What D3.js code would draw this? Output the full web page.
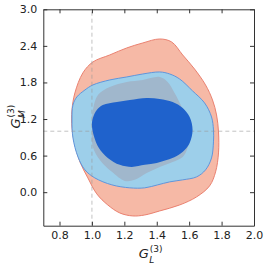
<!DOCTYPE html>
<html>
<head>
<meta charset="utf-8">
<script src="https://cdn.jsdelivr.net/npm/d3@7"></script>
<style>
  body { margin: 0; background: #fff; }
  text { font-family: "DejaVu Sans", sans-serif; fill: #222; }
</style>
</head>
<body>
<svg id="chart" width="266" height="268"></svg>
<script>
// contour outlines, in data units (G_L, G_M)
const outerRed = [
  [0.877, 1.349], [0.895, 1.628], [0.944, 1.956], [1.006, 2.136], [1.110, 2.251],
  [1.215, 2.366], [1.314, 2.448], [1.418, 2.513], [1.492, 2.464], [1.560, 2.251],
  [1.633, 2.021], [1.701, 1.759], [1.744, 1.513], [1.769, 1.267], [1.781, 0.988],
  [1.781, 0.644], [1.763, 0.333], [1.726, 0.103], [1.646, -0.077], [1.541, -0.210],
  [1.418, -0.308], [1.326, -0.374], [1.252, -0.390], [1.172, -0.341], [1.098, -0.210],
  [1.030, -0.028], [0.975, 0.234], [0.926, 0.497], [0.895, 0.775], [0.877, 1.054]
];
const outerBlue = [
  [0.907, 1.562], [0.957, 1.677], [1.006, 1.759], [1.110, 1.841], [1.215, 1.890],
  [1.314, 1.939], [1.418, 1.972], [1.480, 1.939], [1.541, 1.857], [1.621, 1.661],
  [1.695, 1.464], [1.738, 1.234], [1.750, 1.021], [1.750, 0.825], [1.738, 0.562],
  [1.701, 0.366], [1.646, 0.251], [1.560, 0.202], [1.480, 0.169], [1.406, 0.120],
  [1.326, 0.071], [1.234, 0.071], [1.123, 0.120], [1.018, 0.234], [0.957, 0.366],
  [0.914, 0.579], [0.883, 0.890], [0.877, 1.185], [0.883, 1.431]
];
const innerRed = [
  [1.006, 1.349], [1.037, 1.595], [1.110, 1.726], [1.215, 1.808], [1.314, 1.841],
  [1.418, 1.890], [1.467, 1.808], [1.510, 1.628], [1.554, 1.398], [1.584, 1.185],
  [1.603, 0.939], [1.590, 0.726], [1.560, 0.579], [1.498, 0.497], [1.418, 0.415],
  [1.338, 0.316], [1.264, 0.202], [1.203, 0.185], [1.123, 0.333], [1.049, 0.529],
  [1.006, 0.743], [1.000, 1.054]
];
const innerBlue = [
  [1.006, 1.218], [1.030, 1.349], [1.067, 1.431], [1.154, 1.480], [1.234, 1.513],
  [1.338, 1.546], [1.418, 1.530], [1.498, 1.480], [1.560, 1.382], [1.603, 1.234],
  [1.621, 1.021], [1.603, 0.808], [1.572, 0.693], [1.523, 0.595], [1.461, 0.529],
  [1.400, 0.480], [1.326, 0.448], [1.246, 0.415], [1.172, 0.448], [1.098, 0.562],
  [1.043, 0.726], [1.012, 0.923], [1.000, 1.103]
];

const xTicks = [0.8, 1.0, 1.2, 1.4, 1.6, 1.8, 2.0];
const yTicks = [0.0, 0.6, 1.2, 1.8, 2.4, 3.0];
const refX = 1.0, refY = 1.0;

const margin = {left: 43.3, top: 9.3, right: 12, bottom: 42.3};
const W = 266, H = 268;

const svg = d3.select("#chart");
const x = d3.scaleLinear().domain([0.7, 2.0]).range([margin.left, W - margin.right]);
const y = d3.scaleLinear().domain([-0.55, 3.0]).range([H - margin.bottom, margin.top]);

const line = d3.line()
  .x(d => x(d[0]))
  .y(d => y(d[1]))
  .curve(d3.curveCatmullRomClosed.alpha(0.5));

function drawRegion(pts, fill, stroke) {
  svg.append("path")
    .attr("d", line(pts))
    .attr("fill", fill)
    .attr("stroke", stroke)
    .attr("stroke-width", stroke === "none" ? 0 : 1);
}

drawRegion(outerRed, "#f6b9a6", "#ea8170");
drawRegion(outerBlue, "#9dcfea", "#5e96dd");
drawRegion(innerRed, "#a0b7cc", "none");

// reference lines
svg.append("line")
  .attr("x1", x(refX)).attr("x2", x(refX))
  .attr("y1", y.range()[0]).attr("y2", y.range()[1])
  .attr("stroke", "#999").attr("stroke-opacity", 0.6)
  .attr("stroke-dasharray", "4,3");
svg.append("line")
  .attr("x1", x.range()[0]).attr("x2", x.range()[1])
  .attr("y1", y(refY)).attr("y2", y(refY))
  .attr("stroke", "#999").attr("stroke-opacity", 0.6)
  .attr("stroke-dasharray", "4,3");

drawRegion(innerBlue, "#1f62cc", "none");

// axes, ticks inside on every side
const fmt = d3.format(".1f");
const tl = 4;
svg.append("g").attr("transform", `translate(0,${y.range()[0]})`)
  .call(d3.axisBottom(x).tickValues(xTicks).tickFormat(fmt).tickSizeInner(-tl).tickSizeOuter(0).tickPadding(6));
svg.append("g").attr("transform", `translate(0,${y.range()[1]})`)
  .call(d3.axisTop(x).tickValues(xTicks).tickFormat("").tickSizeInner(-tl).tickSizeOuter(0));
svg.append("g").attr("transform", `translate(${x.range()[0]},0)`)
  .call(d3.axisLeft(y).tickValues(yTicks).tickFormat(fmt).tickSizeInner(-tl).tickSizeOuter(0).tickPadding(6));
svg.append("g").attr("transform", `translate(${x.range()[1]},0)`)
  .call(d3.axisRight(y).tickValues(yTicks).tickFormat("").tickSizeInner(-tl).tickSizeOuter(0));

svg.selectAll(".domain").attr("stroke", "#333");
svg.selectAll(".tick line").attr("stroke", "#333");
svg.selectAll(".tick text")
  .attr("font-family", "DejaVu Sans, sans-serif")
  .attr("font-size", 11)
  .attr("fill", "#222");

// axis titles: G_L^(3) and G_M^(3)
function mathLabel(g, sub) {
  g.append("text").attr("x", -11).attr("y", 0)
    .attr("font-size", 13).attr("font-style", "italic").text("G");
  g.append("text").attr("x", 0).attr("y", -6.5)
    .attr("font-size", 9).text("(3)");
  g.append("text").attr("x", -0.5).attr("y", 4.5)
    .attr("font-size", 9).attr("font-style", "italic").text(sub);
}
const cx = (x.range()[0] + x.range()[1]) / 2;
const cy = (y.range()[0] + y.range()[1]) / 2;
mathLabel(svg.append("g").attr("transform", `translate(${cx + 1},258)`), "L");
mathLabel(svg.append("g").attr("transform", `translate(20,${cy}) rotate(-90)`), "M");
</script>
</body>
</html>
